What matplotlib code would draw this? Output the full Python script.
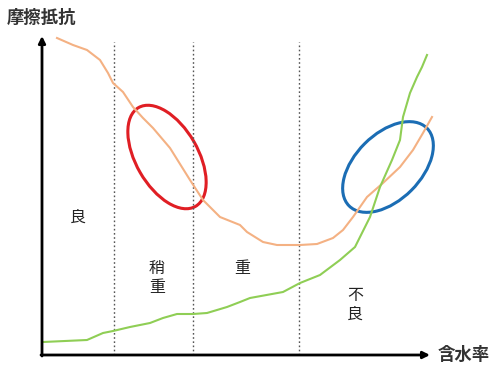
import numpy as np
import matplotlib.pyplot as plt
from matplotlib.patches import Ellipse

plt.rcParams['font.family'] = ['Noto Sans CJK JP', 'DejaVu Sans']

# schematic units (no numeric scale on the original chart)
friction_x = [57, 73, 87, 100, 108, 113, 123, 133, 143, 153, 170, 180, 190, 203, 220,
              240, 247, 263, 277, 300, 317, 333, 343, 353, 367, 383, 400, 413, 423, 432]
friction_y = [331, 324, 319, 309, 296, 286, 277, 262, 251, 241, 221, 205, 189, 169, 152,
              144, 137, 127, 124, 124, 125, 131, 139, 152, 172, 186, 202, 219, 236, 252]

water_x = [43, 87, 103, 113, 130, 150, 163, 177, 193, 207, 227, 240, 250, 283, 300,
           320, 340, 355, 370, 380, 392, 400, 403, 410, 417, 422, 427]
water_y = [27, 29, 36, 38, 42, 46, 51, 55, 55, 56, 62, 67, 71, 77, 86,
           94, 109, 122, 152, 182, 209, 229, 252, 276, 292, 302, 314]

boundaries = [114, 193, 299]
zone_labels = ['良', '稍\n重', '重', '不\n良']
zone_pos = [(78, 152), (157, 91), (242, 101), (355, 64)]

x0, y0 = 42, 14
x_end, y_end = 430, 333


def plot_chart():
    fig = plt.figure(figsize=(5, 3.69), dpi=100)
    ax = fig.add_axes([0, 0, 1, 1])
    ax.set_xlim(0, 500)
    ax.set_ylim(0, 369)
    ax.axis('off')

    for b in boundaries:
        ax.plot([b, b], [y0, 327], ls=(0, (1.2, 1.8)), color='#555555', lw=1.0)

    ax.plot(friction_x, friction_y, color='#f4b183', lw=1.5)
    ax.plot(water_x, water_y, color='#8fce55', lw=1.5)

    ax.add_patch(Ellipse((167, 212), 114, 62, angle=-60, fill=False,
                         ec='#e01e24', lw=2.2))
    ax.add_patch(Ellipse((388, 202), 110, 66, angle=45, fill=False,
                         ec='#1b6db4', lw=2.2))

    # axes with arrows
    ax.annotate('', xy=(x0, y_end), xytext=(x0, y0 - 1),
                arrowprops=dict(arrowstyle='-|>', color='black', lw=2,
                                mutation_scale=10, shrinkA=0, shrinkB=0))
    ax.annotate('', xy=(x_end, y0), xytext=(x0 - 1, y0),
                arrowprops=dict(arrowstyle='-|>', color='black', lw=2,
                                mutation_scale=10, shrinkA=0, shrinkB=0))

    for lab, (x, y) in zip(zone_labels, zone_pos):
        ax.text(x, y, lab, ha='center', va='center', fontsize=11.5,
                color='#222222', linespacing=1.1)

    ax.text(7, 351, '摩擦抵抗', ha='left', va='center', fontsize=12.5,
            color='#333333', fontweight='bold')
    ax.text(438, y0, '含水率', ha='left', va='center', fontsize=12.5,
            color='#333333', fontweight='bold')

    fig.savefig('out.png', dpi=100, facecolor='white')


if __name__ == '__main__':
    plot_chart()
